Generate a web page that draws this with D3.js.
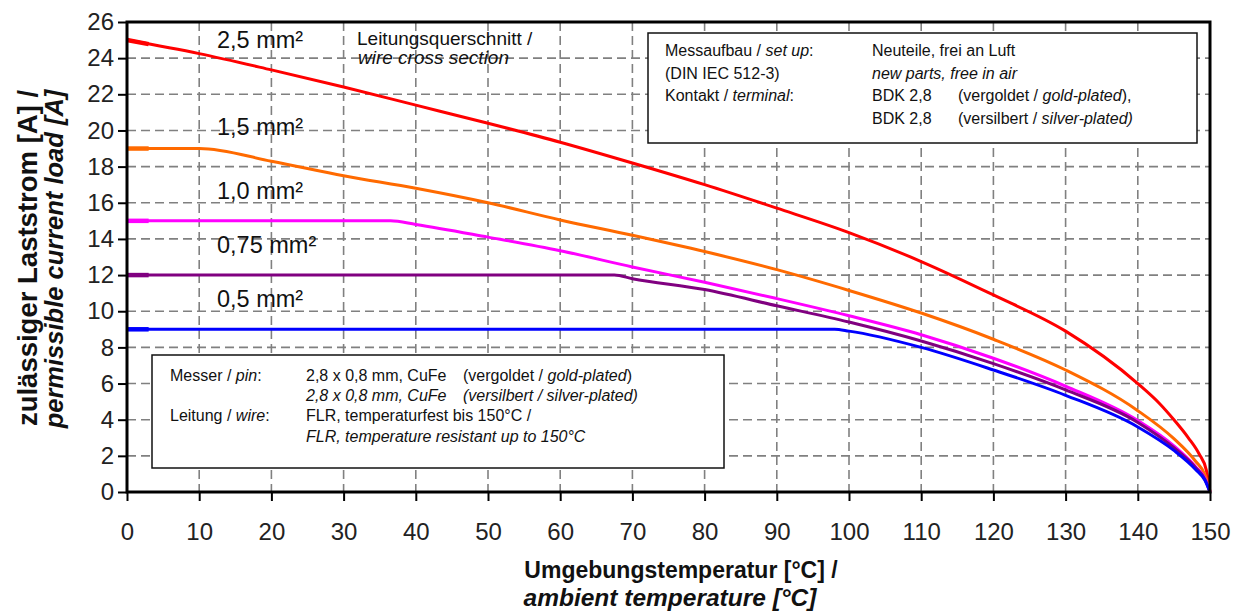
<!DOCTYPE html>
<html>
<head>
    <meta charset="UTF-8">
    <title></title>
    <script src="https://cdn.jsdelivr.net/npm/d3@7"></script>
    <style>
        body{
            padding: 0;
            margin: 0;
            background: #fff;
        }
        svg text{
            font-family: "Liberation Sans", Arial, sans-serif;
            fill: #111;
            white-space: pre;
        }
        .grid line{
            stroke: #808080;
            stroke-width: 1.6;
            stroke-dasharray: 9,5;
        }
        .axis path,
        .axis line{
            fill: none;
            stroke: black;
            stroke-width: 2;
        }
        .axis text{
            font-size: 24px;
            fill: #222;
        }
    </style>
</head>
<body>
<div class="first"></div>

<script>
    // Werte
    var xTicks = [0,10,20,30,40,50,60,70,80,90,100,110,120,130,140,150];
    var yTicks = [0,2,4,6,8,10,12,14,16,18,20,22,24,26];

    var temp25 = [0,10,20,30,40,50,60,70,80,90,100,110,120,130,140,143,145,147,148.5,149.5,150];
    var val25  = [25,24.25,23.35,22.4,21.4,20.4,19.35,18.2,17.0,15.7,14.35,12.75,10.9,8.9,6.0,4.9,4.0,3.0,2.1,1.2,0];

    var temp15 = [0,10,20,30,40,50,60,70,80,90,100,110,120,130,140,145,148,149.3,150];
    var val15  = [19,19,18.3,17.5,16.8,16.0,15.05,14.2,13.3,12.3,11.15,9.9,8.45,6.75,4.5,2.95,1.7,0.95,0];

    var temp10 = [0,36.5,40,50,60,70,80,90,100,110,120,130,140,145,148,149.3,150];
    var val10  = [15,15,14.8,14.1,13.35,12.45,11.6,10.7,9.75,8.7,7.4,5.85,3.95,2.55,1.4,0.75,0];

    var temp075 = [0,67.5,70,80,90,100,110,120,130,140,145,148,149.3,150];
    var val075  = [12,12,11.8,11.2,10.3,9.4,8.35,7.1,5.65,3.85,2.45,1.35,0.7,0];

    var temp05 = [0,98,100,110,120,130,140,145,148,149.3,150];
    var val05  = [9,9,8.9,8.0,6.75,5.35,3.6,2.3,1.25,0.65,0];

    var seriesNames  = ["2,5 mm²","1,5 mm²","1,0 mm²","0,75 mm²","0,5 mm²"];
    var seriesTemps  = [temp25,temp15,temp10,temp075,temp05];
    var seriesValues = [val25,val15,val10,val075,val05];
    var seriesColors = ["#ff0000","#ff6a00","#ff00ff","#800080","#0000ff"];

    var W = 1239, H = 615;
    var pL = 127, pT = 22, pR = 1210, pB = 492;

    var svg = d3.select(".first")
        .append("svg")
        .attr("width", W)
        .attr("height", H);

    var x = d3.scaleLinear().domain([0,150]).range([pL,pR]);
    var y = d3.scaleLinear().domain([0,26]).range([pB,pT]);

    // Gitter
    var grid = svg.append("g").attr("class","grid");
    grid.selectAll(".vg")
        .data(xTicks.slice(1,-1))
        .enter().append("line")
        .attr("x1", function(d){ return x(d); })
        .attr("x2", function(d){ return x(d); })
        .attr("y1", pT)
        .attr("y2", pB);
    grid.selectAll(".hg")
        .data(yTicks.slice(1,-1))
        .enter().append("line")
        .attr("y1", function(d){ return y(d); })
        .attr("y2", function(d){ return y(d); })
        .attr("x1", pL)
        .attr("x2", pR);

    // Kurven
    var line = d3.line()
        .x(function(d){ return x(d[0]); })
        .y(function(d){ return y(d[1]); })
        .curve(d3.curveMonotoneX);

    seriesTemps.forEach(function(t,i){
        var pts = t.map(function(v,j){ return [v, seriesValues[i][j]]; });
        svg.append("path")
            .datum(pts)
            .attr("d", line)
            .attr("fill","none")
            .attr("stroke", seriesColors[i])
            .attr("stroke-width", 3)
            .attr("stroke-linejoin","round");
        // etwas dickerer Anfang wie im Original
        svg.append("path")
            .datum(pts.slice(0,2))
            .attr("d", d3.line()
                .x(function(d){ return x(Math.min(d[0],3)); })
                .y(function(d){ return y(d[0] > 3 ? pts[0][1] + (d[1]-pts[0][1])*3/d[0] : d[1]); }))
            .attr("fill","none")
            .attr("stroke", seriesColors[i])
            .attr("stroke-width", 4.5);
    });

    // Rahmen
    svg.append("rect")
        .attr("x", pL).attr("y", pT)
        .attr("width", pR-pL).attr("height", pB-pT)
        .attr("fill","none")
        .attr("stroke","black")
        .attr("stroke-width",3);

    // Achsen
    var axisX = d3.axisBottom(x).tickValues(xTicks).tickSize(9).tickPadding(22);
    var axisY = d3.axisLeft(y).tickValues(yTicks).tickSize(9).tickPadding(4);

    svg.append("g")
        .attr("class","axis")
        .attr("transform","translate(0,"+pB+")")
        .call(axisX)
        .call(function(g){ g.select(".domain").remove(); });

    svg.append("g")
        .attr("class","axis")
        .attr("transform","translate("+pL+",0)")
        .call(axisY)
        .call(function(g){ g.select(".domain").remove(); });

    // Text mit kursiven Teilen
    function rich(parent, tx, ty, parts, size, anchor, weight){
        var t = parent.append("text")
            .attr("x", tx).attr("y", ty)
            .style("font-size", size+"px")
            .attr("text-anchor", anchor || "start")
            .style("font-weight", weight || "normal");
        parts.forEach(function(p){
            t.append("tspan")
                .text(p[0])
                .style("font-style", p[1] ? "italic" : "normal");
        });
        return t;
    }

    // Kurvenbeschriftung
    var labelY = [48, 135, 199, 253, 307];
    seriesNames.forEach(function(n,i){
        rich(svg, 217, labelY[i], [[n,false]], 23.5);
    });
    rich(svg, 357, 45, [["Leitungsquerschnitt /",false]], 19);
    rich(svg, 358, 64, [["wire cross section",true]], 19);

    // Kasten oben rechts
    svg.append("rect")
        .attr("x",648).attr("y",33).attr("width",549).attr("height",110)
        .attr("fill","white").attr("stroke","#111").attr("stroke-width",1.5);
    var b1 = svg.append("g");
    rich(b1, 665, 56, [["Messaufbau / ",false],["set up",true],[":",false]], 16);
    rich(b1, 665, 79, [["(DIN IEC 512-3)",false]], 16);
    rich(b1, 665, 101, [["Kontakt / ",false],["terminal",true],[":",false]], 16);
    rich(b1, 872, 56, [["Neuteile, frei an Luft",false]], 16);
    rich(b1, 872, 79, [["new parts, free in air",true]], 16);
    rich(b1, 872, 101, [["BDK 2,8",false]], 16);
    rich(b1, 958, 101, [["(vergoldet / ",false],["gold-plated",true],["),",false]], 16);
    rich(b1, 872, 124, [["BDK 2,8",false]], 16);
    rich(b1, 958, 124, [["(versilbert / ",false],["silver-plated)",true]], 16);

    // Kasten unten links
    svg.append("rect")
        .attr("x",152).attr("y",355).attr("width",572).attr("height",113)
        .attr("fill","white").attr("stroke","#111").attr("stroke-width",1.5);
    var b2 = svg.append("g");
    rich(b2, 170, 381, [["Messer / ",false],["pin",true],[":",false]], 16);
    rich(b2, 170, 421, [["Leitung / ",false],["wire",true],[":",false]], 16);
    rich(b2, 306, 381, [["2,8 x 0,8 mm, CuFe",false]], 16);
    rich(b2, 463, 381, [["(vergoldet / ",false],["gold-plated",true],[")",false]], 16);
    rich(b2, 306, 401, [["2,8 x 0,8 mm, CuFe",true]], 16);
    rich(b2, 463, 401, [["(versilbert / silver-plated)",true]], 16);
    rich(b2, 306, 421, [["FLR, temperaturfest bis 150°C /",false]], 16);
    rich(b2, 306, 442, [["FLR, temperature resistant up to 150°C",true]], 16);

    // Achsentitel
    rich(svg, 681, 578, [["Umgebungstemperatur [°C] /",false]], 23, "middle", "bold");
    rich(svg, 670, 606, [["ambient temperature [°C]",true]], 24.5, "middle", "bold");

    var yt = svg.append("g").attr("transform","translate(37,258) rotate(-90)");
    rich(yt, 0, 0, [["zulässiger Laststrom [A] /",false]], 27.5, "middle", "bold");
    var yt2 = svg.append("g").attr("transform","translate(63,259) rotate(-90)");
    rich(yt2, 0, 0, [["permissible current load [A]",true]], 25.5, "middle", "bold");
</script>
</body>
</html>
